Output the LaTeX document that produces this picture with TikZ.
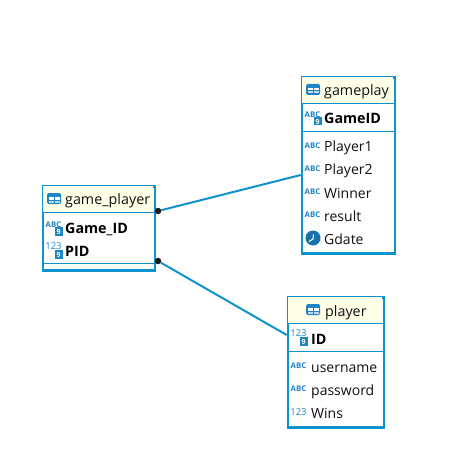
\documentclass[tikz,border=0pt]{standalone}
\usepackage{fontspec}
\setmainfont{Open Sans}
\definecolor{erblue}{HTML}{0E93CF}
\definecolor{iconblue}{HTML}{1F86C6}
\definecolor{headfill}{HTML}{FFFEE6}
\definecolor{txt}{HTML}{111111}
\tikzset{
  x=1pt,y=-1pt,
  tablebox/.style={draw=erblue,line width=2.6pt,fill=white,inner sep=0pt,anchor=north west},
  sepline/.style={draw=erblue,line width=0.9pt},
  headtext/.style={font=\fontsize{14.3}{16}\selectfont,text=txt,inner sep=0pt,anchor=base west},
  coltext/.style={font=\fontsize{14}{16}\selectfont,text=txt,inner sep=0pt,anchor=base west},
  keytext/.style={font=\fontsize{14.3}{16}\selectfont\bfseries,text=black,inner sep=0pt,anchor=base west},
  icontext/.style={font=\fontsize{7.8}{8}\selectfont\bfseries,text=iconblue,inner sep=0pt,anchor=center},
  numtext/.style={font=\fontsize{9.5}{10}\selectfont,text=iconblue,inner sep=0pt,anchor=center},
  relline/.style={draw=erblue,line width=2pt},
  reldot/.style={circle,fill=black!90,inner sep=0pt,minimum size=6.5pt},
}
\newcommand{\tblicon}[2]{%
  \fill[iconblue,rounded corners=1.5pt] (#1,#2) rectangle ++(14,11);
  \fill[white] (#1+1.5,#2+4) rectangle ++(5,2.5);
  \fill[white] (#1+7.5,#2+4) rectangle ++(5,2.5);
  \fill[white!70!iconblue] (#1+1.5,#2+7.5) rectangle ++(5,2);
  \fill[white!70!iconblue] (#1+7.5,#2+7.5) rectangle ++(5,2);
}
\newcommand{\abcicon}[2]{\node[icontext] at (#1+8.5,#2) {ABC};}
\newcommand{\numicon}[2]{\node[numtext] at (#1+8.5,#2) {123};}
\newcommand{\keybadge}[2]{%
  \fill[iconblue] (#1+10,#2) rectangle ++(7.5,8.5);
  \node[font=\fontsize{7}{7}\selectfont\bfseries,text=white,inner sep=0pt] at (#1+13.7,#2+4.6) {9};
}
\newcommand{\clockicon}[2]{%
  \fill[iconblue!85!black] (#1+8,#2) circle (7.5);
  \draw[white,line width=1pt] (#1+8.5,#2-3.5) -- (#1+8,#2+1) -- (#1+4,#2+3.5);
}
\begin{document}
\begin{tikzpicture}
\useasboundingbox (0,0) rectangle (464,473);
\fill[white] (0,0) rectangle (464,473);

% game_player
\node[tablebox,minimum width=112pt,minimum height=84pt] (gp) at (41.7,185) {};
\fill[headfill] (43,186.3) rectangle (152.5,212);
\draw[sepline] (gp.west |- 0,212) -- (gp.east |- 0,212);
\draw[sepline] (gp.west |- 0,263) -- (gp.east |- 0,263);
\tblicon{47}{193}
\node[headtext] (gpt) at (65,204) {game\_player};
\abcicon{45}{225}\keybadge{45}{227}
\node[keytext] (gpa) at (65,233) {Game\_ID};
\numicon{45}{246.5}\keybadge{45}{250}
\node[keytext] (gpb) at (65,256) {PID};

% gameplay
\node[tablebox,minimum width=93pt,minimum height=176pt] (gm) at (300.7,76) {};
\fill[headfill] (302,77.3) rectangle (392.5,103);
\draw[sepline] (gm.west |- 0,103) -- (gm.east |- 0,103);
\draw[sepline] (gm.west |- 0,131) -- (gm.east |- 0,131);
\tblicon{306}{84}
\node[headtext] (gmt) at (324,96) {gameplay};
\abcicon{304}{115}\keybadge{304}{117}
\node[keytext] (gma) at (324,124) {GameID};
\abcicon{304}{146}
\node[coltext] (gmb) at (324,152) {Player1};
\abcicon{304}{169}
\node[coltext] (gmc) at (324,175) {Player2};
\abcicon{304}{192}
\node[coltext] (gmd) at (324,198) {Winner};
\abcicon{304}{215}
\node[coltext] (gme) at (324,221) {result};
\clockicon{305}{238}
\node[coltext] (gmf) at (324,244) {Gdate};

% player
\node[tablebox,minimum width=96pt,minimum height=130pt] (pl) at (286.7,296) {};
\fill[headfill] (288,297.3) rectangle (381.5,323);
\draw[sepline] (pl.west |- 0,323) -- (pl.east |- 0,323);
\draw[sepline] (pl.west |- 0,351) -- (pl.east |- 0,351);
\tblicon{306}{304}
\node[headtext] (plt) at (325,316) {player};
\numicon{290}{333.5}\keybadge{290}{337}
\node[keytext] (pla) at (311,344) {ID};
\abcicon{290}{366}
\node[coltext] (plb) at (311,372) {username};
\abcicon{290}{389}
\node[coltext] (plc) at (311,395) {password};
\numicon{290}{412}
\node[coltext] (pld) at (311,418) {Wins};

% connectors
\node[reldot] (d1) at (158,211) {};
\node[reldot] (d2) at (158,261) {};
\coordinate (e1) at (gm.west |- 0,175);
\coordinate (e2) at (pl.west |- 0,335);
\draw[relline] (d1) -- (e1);
\draw[relline] (d2) -- (e2);
\end{tikzpicture}
\end{document}
